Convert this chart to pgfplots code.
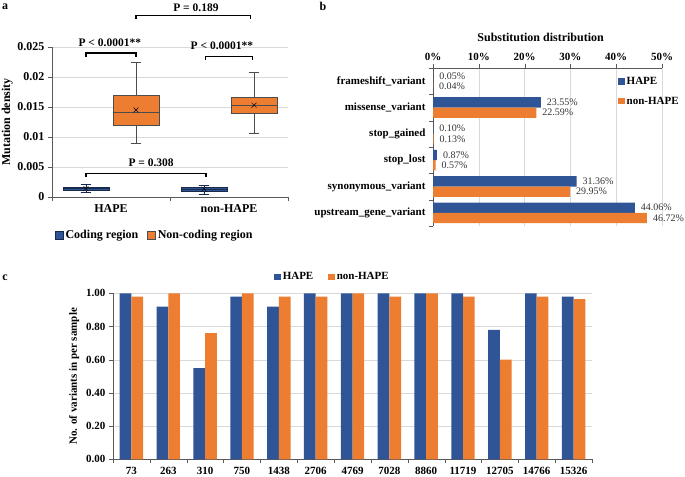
\documentclass[border=0pt]{standalone}
\usepackage{pgfplots}
\pgfplotsset{compat=1.18}
\usepgfplotslibrary{statistics}
\usepackage{fontspec}
\setmainfont{Liberation Serif}

\definecolor{cblue}{HTML}{2F5597}
\definecolor{corange}{HTML}{ED7D31}
\definecolor{cgrid}{HTML}{D9D9D9}
\definecolor{caxis}{HTML}{595959}
\newcommand{\fs}[1]{\fontsize{#1}{#1}\selectfont}

\pgfplotsset{
  panel/.style={
    scale only axis,
    /pgf/number format/assume math mode=true,
    scaled ticks=false,
    tick label style={font=\bfseries\fs{11bp}, text=black},
    label style={font=\bfseries\fs{11bp}},
    axis line style={-, caxis},
    major grid style={cgrid},
    tick style={caxis},
    tick align=outside,
    minor tick length=4bp,
    major tick length=4bp,
    legend cell align=left,
  },
  sq/.style={legend image code/.code={\fill[##1] (0bp,-3bp) rectangle (6.5bp,3.5bp);}},
}

\begin{document}
\begin{tikzpicture}
\useasboundingbox (0bp,0bp) rectangle (685bp,-477bp);

\node[font=\bfseries\fs{12bp}] at (5bp,-7bp) {a};
\node[font=\bfseries\fs{12bp}] at (323bp,-6bp) {b};
\node[font=\bfseries\fs{12bp}] at (5bp,-278bp) {c};

% ---- panel a: boxplots
\begin{axis}[panel, at={(52bp,-197bp)}, anchor=south west,
  width=236bp, height=150bp,
  tick label style={font=\bfseries\fs{12bp}},
  label style={font=\bfseries\fs{12bp}},
  xmin=0.5, xmax=2.5, ymin=0, ymax=0.025,
  axis x line*=bottom, axis y line*=left,
  ytick={0,0.005,0.01,0.015,0.02,0.025},
  yticklabels={0,0.005,0.01,0.015,0.02,0.025},
  ymajorgrids,
  xtick={1,2}, xticklabels={HAPE,non-HAPE},
  minor xtick={0.5,1.5,2.5},
  major x tick style={draw=none},
  ylabel={Mutation density},
  ylabel style={at={(axis description cs:-0.19,0.5)}, anchor=center},
  clip=false,
  boxplot/draw direction=y,
  legend style={at={(axis description cs:0,-0.253)}, anchor=west, draw=none,
    fill=none, font=\bfseries\fs{12bp}, legend columns=2,
    /tikz/every even column/.append style={column sep=7bp}},
  legend image code/.code={\draw[#1] (0bp,-4bp) rectangle (8bp,4bp);},
]
\addlegendimage{fill=cblue, draw=cblue!50!black}
\addlegendentry{Coding region}
\addlegendimage{fill=corange, draw=black!70}
\addlegendentry{Non-coding region}

\addplot[forget plot, fill=cblue, draw=cblue!50!black, line width=0.6bp, boxplot prepared={draw position=0.788,
  lower whisker=0.0008, lower quartile=0.0011, median=0.0014,
  upper quartile=0.0017, upper whisker=0.0021, box extend=0.39, whisker extend=0.09}]
  coordinates {};
\addplot[forget plot, fill=corange, draw=black!70, line width=0.6bp, boxplot prepared={draw position=1.212,
  lower whisker=0.0090, lower quartile=0.0120, median=0.0141,
  upper quartile=0.0169, upper whisker=0.0224, box extend=0.39, whisker extend=0.09}]
  coordinates {};
\addplot[forget plot, fill=cblue, draw=cblue!50!black, line width=0.6bp, boxplot prepared={draw position=1.788,
  lower whisker=0.0005, lower quartile=0.0010, median=0.0013,
  upper quartile=0.0017, upper whisker=0.0020, box extend=0.39, whisker extend=0.09}]
  coordinates {};
\addplot[forget plot, fill=corange, draw=black!70, line width=0.6bp, boxplot prepared={draw position=2.212,
  lower whisker=0.0107, lower quartile=0.0139, median=0.0153,
  upper quartile=0.0167, upper whisker=0.0208, box extend=0.39, whisker extend=0.09}]
  coordinates {};
% means
\addplot[forget plot, only marks, mark=x, mark size=3.5bp, black]
  coordinates {(0.788,0.0014) (1.212,0.0145) (1.788,0.0013) (2.212,0.0153)};

% significance brackets
\draw[line width=1.2bp] (axis cs:0.788,0.0233) -- (axis cs:0.788,0.0240) -- (axis cs:1.212,0.0240) -- (axis cs:1.212,0.0233);
\draw[line width=1.2bp] (axis cs:1.80,0.0228) -- (axis cs:1.80,0.0234) -- (axis cs:2.20,0.0234) -- (axis cs:2.20,0.0228);
\draw[line width=1.2bp] (axis cs:1.212,0.0297) -- (axis cs:1.212,0.0302) -- (axis cs:2.18,0.0302) -- (axis cs:2.18,0.0297);
\draw[line width=1.2bp] (axis cs:0.788,0.0034) -- (axis cs:0.788,0.0039) -- (axis cs:1.805,0.0039) -- (axis cs:1.805,0.0034);
\node[font=\bfseries\fs{11.5bp}] at (axis cs:0.99,0.0257) {P < 0.0001**};
\node[font=\bfseries\fs{11.5bp}] at (axis cs:1.94,0.0252) {P < 0.0001**};
\node[font=\bfseries\fs{11.5bp}] at (axis cs:1.72,0.0315) {P = 0.189};
\node[font=\bfseries\fs{11.5bp}] at (axis cs:1.34,0.0057) {P = 0.308};
\end{axis}

% ---- panel b: substitution distribution
\begin{axis}[panel, at={(433bp,-226bp)}, anchor=south west,
  width=229bp, height=158bp,
  xbar, bar width=10.3bp,
  xmin=0, xmax=50, ymin=0.5, ymax=6.5,
  axis x line*=top, axis y line*=left,
  xtick={0,10,20,30,40,50},
  xticklabels={0\%,10\%,20\%,30\%,40\%,50\%},
  xmajorgrids,
  ytick={1,2,3,4,5,6},
  yticklabels={upstream\_gene\_variant, synonymous\_variant, stop\_lost,
    stop\_gained, missense\_variant, frameshift\_variant},
  minor ytick={0.5,1.5,2.5,3.5,4.5,5.5,6.5},
  major y tick style={draw=none},
  clip=false,
  point meta=x,
  nodes near coords={\pgfmathprintnumber[fixed,fixed zerofill,precision=2,assume math mode=true]{\pgfplotspointmeta}\%},
  every node near coord/.append style={font=\fs{10bp}, text=black!80, anchor=west, xshift=2.5bp},
  legend style={at={(axis description cs:0.795,0.968)}, anchor=north west, draw=none,
    fill=none, font=\bfseries\fs{11bp}, row sep=7bp},
]
\node[font=\bfseries\fs{12bp}] at (axis description cs:0.47,1.196) {Substitution distribution};
\addplot[fill=cblue, draw=none, bar shift=5.15bp, sq]
  coordinates {(44.06,1) (31.36,2) (0.87,3) (0.10,4) (23.55,5) (0.05,6)};
\addlegendentry{HAPE}
\addplot[fill=corange, draw=none, bar shift=-5.15bp, sq]
  coordinates {(46.72,1) (29.95,2) (0.57,3) (0.13,4) (22.59,5) (0.04,6)};
\addlegendentry{non-HAPE}
\end{axis}

% ---- panel c: variants per sample
\begin{axis}[panel, at={(113bp,-459.3bp)}, anchor=south west,
  width=479bp, height=166bp,
  ybar, bar width=11.7bp,
  xmin=0.5, xmax=13.5, ymin=0, ymax=1,
  axis x line*=bottom, axis y line*=left,
  ytick={0,0.2,0.4,0.6,0.8,1},
  yticklabels={0.00,0.20,0.40,0.60,0.80,1.00},
  ymajorgrids,
  xtick={1,2,3,4,5,6,7,8,9,10,11,12,13},
  xticklabels={73,263,310,750,1438,2706,4769,7028,8860,11719,12705,14766,15326},
  minor xtick={0.5,1.5,2.5,3.5,4.5,5.5,6.5,7.5,8.5,9.5,10.5,11.5,12.5,13.5},
  major x tick style={draw=none},
  ylabel={No. of variants in per sample},
  ylabel style={at={(axis description cs:-0.081,0.5)}, anchor=center},
  legend style={at={(axis description cs:0.33,1.098)}, anchor=west, draw=none,
    fill=none, font=\bfseries\fs{11bp}, legend columns=2,
    /tikz/every even column/.append style={column sep=13bp}},
]
\addplot[fill=cblue, draw=none, bar shift=-5.85bp, sq]
  coordinates {(1,1.00) (2,0.92) (3,0.55) (4,0.98) (5,0.92) (6,1.00) (7,1.00)
               (8,1.00) (9,1.00) (10,1.00) (11,0.78) (12,1.00) (13,0.98)};
\addlegendentry{HAPE}
\addplot[fill=corange, draw=none, bar shift=5.85bp, sq]
  coordinates {(1,0.98) (2,1.00) (3,0.76) (4,1.00) (5,0.98) (6,0.98) (7,1.00)
               (8,0.98) (9,1.00) (10,0.98) (11,0.60) (12,0.98) (13,0.965)};
\addlegendentry{non-HAPE}
\end{axis}
\end{tikzpicture}
\end{document}
